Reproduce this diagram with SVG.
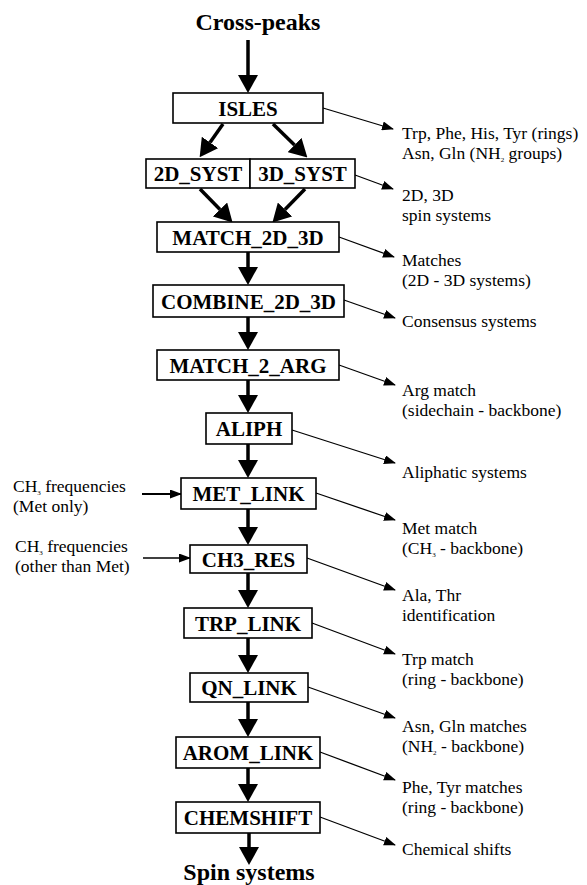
<svg xmlns="http://www.w3.org/2000/svg" width="587" height="885" viewBox="0 0 587 885">
<style>
.box{fill:#fff;stroke:#000;stroke-width:1.6}
.bl{font-family:"Liberation Serif","Times New Roman",serif;font-weight:bold;font-size:21px;text-anchor:middle;fill:#000}
.tl{font-family:"Liberation Serif","Times New Roman",serif;font-weight:bold;font-size:24px;text-anchor:middle;fill:#000}
.lb{font-family:"Liberation Serif","Times New Roman",serif;font-size:17.5px;fill:#000}
.sub{font-size:7px}
.thick{stroke:#000;stroke-width:3.5;fill:none;marker-end:url(#big)}
.thin{stroke:#000;stroke-width:1.3;fill:none;marker-end:url(#small)}
.mid{stroke:#000;stroke-width:1.8;fill:none;marker-end:url(#small)}
</style>
<defs>
<marker id="big" markerUnits="userSpaceOnUse" markerWidth="18" markerHeight="20" viewBox="0 0 18 20" refX="0" refY="10" orient="auto"><path d="M0,0 L18,10 L0,20 Z" fill="#000"/></marker>
<marker id="small" markerUnits="userSpaceOnUse" markerWidth="12" markerHeight="9" viewBox="0 0 12 9" refX="11" refY="4.5" orient="auto"><path d="M0,0 L12,4.5 L0,9 Z" fill="#000"/></marker>
</defs>
<rect width="587" height="885" fill="#fff"/>

<g id="connectors">
<line class="thick" x1="248" y1="40" x2="248" y2="75"/>
<line class="thick" x1="223" y1="124" x2="210" y2="142.5"/>
<line class="thick" x1="273" y1="124" x2="294.5" y2="145"/>
<line class="thick" x1="200" y1="189" x2="220" y2="209.5"/>
<line class="thick" x1="305" y1="189" x2="285" y2="209.5"/>
<line class="thick" x1="248" y1="252" x2="248" y2="267"/>
<line class="thick" x1="248" y1="317" x2="248" y2="332"/>
<line class="thick" x1="248" y1="380" x2="248" y2="395"/>
<line class="thick" x1="248" y1="444" x2="248" y2="460"/>
<line class="thick" x1="248" y1="509" x2="248" y2="527"/>
<line class="thick" x1="248" y1="573" x2="248" y2="590"/>
<line class="thick" x1="248" y1="638" x2="248" y2="655"/>
<line class="thick" x1="248" y1="702" x2="248" y2="719"/>
<line class="thick" x1="248" y1="768" x2="248" y2="784"/>
<line class="thick" x1="249" y1="833" x2="249" y2="847"/>
<line class="thin" x1="323" y1="108" x2="393" y2="129"/>
<line class="thin" x1="355" y1="175" x2="393" y2="189"/>
<line class="thin" x1="339" y1="237" x2="394" y2="257"/>
<line class="thin" x1="344" y1="300" x2="395" y2="318"/>
<line class="thin" x1="339" y1="365" x2="395" y2="385"/>
<line class="thin" x1="292" y1="430" x2="395" y2="463"/>
<line class="thin" x1="316" y1="493" x2="395" y2="520"/>
<line class="thin" x1="307" y1="558" x2="395" y2="590"/>
<line class="thin" x1="312" y1="623" x2="395" y2="654"/>
<line class="thin" x1="308" y1="687" x2="395" y2="718"/>
<line class="thin" x1="320" y1="752" x2="395" y2="780"/>
<line class="thin" x1="320" y1="817" x2="395" y2="845"/>
<line class="mid" x1="142" y1="494" x2="181" y2="494"/>
<line class="thin" x1="143" y1="558" x2="190" y2="558"/>
</g>

<g id="cross-peaks"><text class="tl" x="258" y="30">Cross-peaks</text></g>
<g id="isles"><rect class="box" x="173" y="93" width="150" height="30"/><text class="bl" x="248" y="116">ISLES</text></g>
<g id="2d_syst"><rect class="box" x="146" y="159" width="104" height="29"/><text class="bl" x="198" y="181">2D_SYST</text></g>
<g id="3d_syst"><rect class="box" x="250" y="159" width="105" height="29"/><text class="bl" x="302.5" y="181">3D_SYST</text></g>
<g id="match_2d_3d"><rect class="box" x="157" y="222" width="182" height="30"/><text class="bl" x="248" y="244.5">MATCH_2D_3D</text></g>
<g id="combine_2d_3d"><rect class="box" x="153" y="285" width="191" height="32"/><text class="bl" x="248.5" y="308.5">COMBINE_2D_3D</text></g>
<g id="match_2_arg"><rect class="box" x="157" y="350" width="182" height="30"/><text class="bl" x="248" y="372.5">MATCH_2_ARG</text></g>
<g id="aliph"><rect class="box" x="206" y="413" width="86" height="31"/><text class="bl" x="249" y="436">ALIPH</text></g>
<g id="met_link"><rect class="box" x="181" y="478" width="135" height="31"/><text class="bl" x="248.5" y="501">MET_LINK</text></g>
<g id="ch3_res"><rect class="box" x="190" y="545" width="117" height="28"/><text class="bl" x="248.5" y="566.5">CH3_RES</text></g>
<g id="trp_link"><rect class="box" x="184" y="608" width="128" height="30"/><text class="bl" x="248" y="630.5">TRP_LINK</text></g>
<g id="qn_link"><rect class="box" x="190" y="673" width="118" height="29"/><text class="bl" x="249" y="695">QN_LINK</text></g>
<g id="arom_link"><rect class="box" x="176" y="737" width="144" height="31"/><text class="bl" x="248" y="760">AROM_LINK</text></g>
<g id="chemshift"><rect class="box" x="176" y="802" width="144" height="31"/><text class="bl" x="248" y="825">CHEMSHIFT</text></g>
<g id="spin-systems"><text class="tl" x="249" y="880">Spin systems</text></g>

<g id="out-isles"><text class="lb" x="402" y="139">Trp, Phe, His, Tyr (rings)</text><text class="lb" x="402" y="158.5">Asn, Gln (NH<tspan class="sub" dy="3">2</tspan><tspan dy="-3"> groups)</tspan></text></g>
<g id="out-syst"><text class="lb" x="402" y="201">2D, 3D</text><text class="lb" x="402" y="220.5">spin systems</text></g>
<g id="out-match"><text class="lb" x="402" y="266">Matches</text><text class="lb" x="402" y="285.5">(2D - 3D systems)</text></g>
<g id="out-combine"><text class="lb" x="402" y="327">Consensus systems</text></g>
<g id="out-arg"><text class="lb" x="402" y="396">Arg match</text><text class="lb" x="402" y="415.5">(sidechain - backbone)</text></g>
<g id="out-aliph"><text class="lb" x="402" y="478">Aliphatic systems</text></g>
<g id="out-met"><text class="lb" x="402" y="534">Met match</text><text class="lb" x="402" y="553.5">(CH<tspan class="sub" dy="3">3</tspan><tspan dy="-3"> - backbone)</tspan></text></g>
<g id="out-ch3"><text class="lb" x="402" y="601">Ala, Thr</text><text class="lb" x="402" y="620.5">identification</text></g>
<g id="out-trp"><text class="lb" x="402" y="665">Trp match</text><text class="lb" x="402" y="684.5">(ring - backbone)</text></g>
<g id="out-qn"><text class="lb" x="402" y="732">Asn, Gln matches</text><text class="lb" x="402" y="751.5">(NH<tspan class="sub" dy="3">2</tspan><tspan dy="-3"> - backbone)</tspan></text></g>
<g id="out-arom"><text class="lb" x="402" y="793">Phe, Tyr matches</text><text class="lb" x="402" y="812.5">(ring - backbone)</text></g>
<g id="out-chem"><text class="lb" x="402" y="855">Chemical shifts</text></g>
<g id="in-met"><text class="lb" x="13" y="492">CH<tspan class="sub" dy="3">3</tspan><tspan dy="-3"> frequencies</tspan></text><text class="lb" x="13" y="511.5">(Met only)</text></g>
<g id="in-ch3"><text class="lb" x="15" y="552">CH<tspan class="sub" dy="3">3</tspan><tspan dy="-3"> frequencies</tspan></text><text class="lb" x="15" y="571.5">(other than Met)</text></g>
</svg>
